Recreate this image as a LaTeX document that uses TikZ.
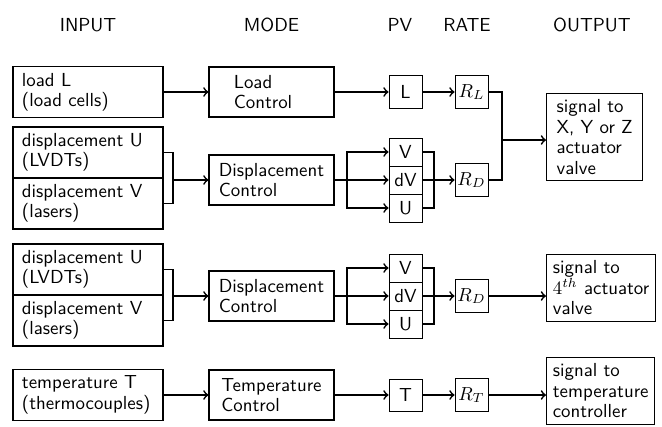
\documentclass[tikz,border=0pt]{standalone}
\usepackage{tikz}

\begin{document}
\begin{tikzpicture}[x=0.53pt,y=-0.53pt,font=\sffamily\fontsize{10}{10.8}\selectfont]
	\tikzset{>=to,
		inbox/.style={draw,line width=0.6pt,minimum width=79.5pt,minimum height=27pt,
			text width=70pt,inner xsep=4.75pt,inner ysep=2pt,align=left},
		modebox/.style={draw,line width=0.6pt,minimum width=66.25pt,minimum height=26.5pt,align=left},
		pvbox/.style={draw,line width=0.5pt,minimum width=17.5pt,minimum height=14.84pt,inner sep=1pt},
		ratebox/.style={draw,line width=0.5pt,minimum size=17.5pt,inner sep=1pt},
		outbox/.style={draw,line width=0.6pt,anchor=north west,minimum width=51pt,align=left},
		conn/.style={line width=0.9pt}}
	
	\useasboundingbox (0,0) rectangle (662,426);
	
	\node (hin) at (88,25) {INPUT};
	\node (hmode) at (271.5,25) {MODE};
	\node (hpv) at (400,25) {PV};
	\node (hrate) at (467,25) {RATE};
	\node (hout) at (592,25) {OUTPUT};
	
	\node[inbox] (load) at (88,92) {load L\\(load cells)};
	\node[inbox] (dispu1) at (88,152.5) {displacement U\\(LVDTs)};
	\node[inbox] (dispv1) at (88,203.5) {displacement V\\(lasers)};
	\node[inbox] (dispu2) at (88,269.5) {displacement U\\(LVDTs)};
	\node[inbox] (dispv2) at (88,320.5) {displacement V\\(lasers)};
	\node[inbox] (temp) at (88,395) {temperature T\\(thermocouples)};
	
	\node[modebox] (loadctl) at (271.5,92) {Load\\Control\hspace*{9pt}};
	\node[modebox] (dispctl1) at (271.5,180) {Displacement\\Control};
	\node[modebox] (dispctl2) at (271.5,296) {Displacement\\Control};
	\node[modebox] (tempctl) at (271.5,395) {Temperature\\Control};
	
	\node[pvbox,minimum height=17pt] (pvl) at (405.5,92) {L};
	\node[pvbox] (pv1v) at (405.5,152) {V};
	\node[pvbox] (pv1d) at (405.5,180) {dV};
	\node[pvbox] (pv1u) at (405.5,208) {U};
	\node[pvbox] (pv2v) at (405.5,268) {V};
	\node[pvbox] (pv2d) at (405.5,296) {dV};
	\node[pvbox] (pv2u) at (405.5,324) {U};
	\node[pvbox,minimum height=17pt] (pvt) at (405.5,395) {T};
	
	\node[ratebox] (rl) at (471.5,92) {$R_L$};
	\node[ratebox] (rd1) at (471.5,180) {$R_D$};
	\node[ratebox] (rd2) at (471.5,296) {$R_D$};
	\node[ratebox] (rt) at (471.5,395) {$R_T$};
	
	\node[outbox] (out1) at (546,93) {signal to\\X, Y or Z\\actuator\\valve};
	\node[outbox] (out2) at (546,254) {signal to\\$4^{th}$ actuator\\valve};
	\node[outbox] (out3) at (546,357) {signal to\\temperature\\controller};
	
	\coordinate (j1) at (502,140);
	\coordinate (b1) at (173,180);
	\coordinate (f1) at (347,180);
	\coordinate (g1) at (434,180);
	\coordinate (b2) at (173,296);
	\coordinate (f2) at (347,296);
	\coordinate (g2) at (434,296);
	
	\draw[conn,->] (load) -- (loadctl);
	\draw[conn,->] (loadctl) -- (pvl);
	\draw[conn,->] (pvl) -- (rl);
	\draw[conn] (rl) -| (j1);
	\draw[conn] (rd1) -| (j1);
	\draw[conn,->] (j1) -- (j1 -| out1.west);
	
	\draw[conn] (dispu1) -| (b1);
	\draw[conn] (dispv1) -| (b1);
	\draw[conn,->] (b1) -- (dispctl1);
	\draw[conn] (dispctl1) -- (f1);
	\draw[conn,->] (f1) |- (pv1v);
	\draw[conn,->] (f1) -- (pv1d);
	\draw[conn,->] (f1) |- (pv1u);
	\draw[conn] (pv1v) -| (g1) |- (pv1u);
	\draw[conn,->] (pv1d) -- (rd1);
	
	\draw[conn] (dispu2) -| (b2);
	\draw[conn] (dispv2) -| (b2);
	\draw[conn,->] (b2) -- (dispctl2);
	\draw[conn] (dispctl2) -- (f2);
	\draw[conn,->] (f2) |- (pv2v);
	\draw[conn,->] (f2) -- (pv2d);
	\draw[conn,->] (f2) |- (pv2u);
	\draw[conn] (pv2v) -| (g2) |- (pv2u);
	\draw[conn,->] (pv2d) -- (rd2);
	\draw[conn,->] (rd2) -- (rd2 -| out2.west);
	
	\draw[conn,->] (temp) -- (tempctl);
	\draw[conn,->] (tempctl) -- (pvt);
	\draw[conn,->] (pvt) -- (rt);
	\draw[conn,->] (rt) -- (rt -| out3.west);
	
\end{tikzpicture}
\end{document}
